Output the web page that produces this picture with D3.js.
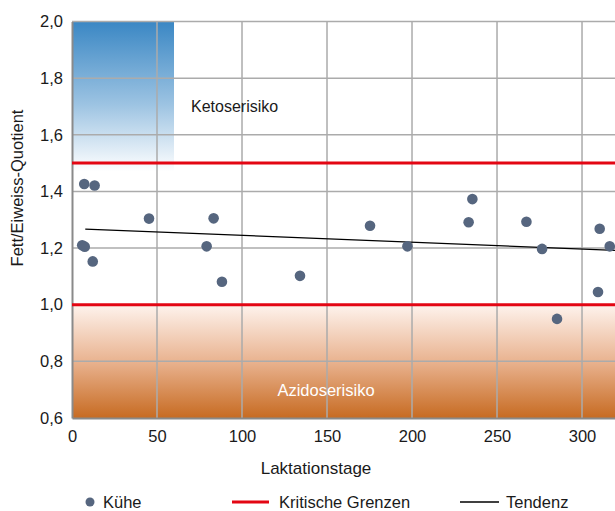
<!DOCTYPE html>
<html>
<head>
<meta charset="utf-8">
<script src="https://cdn.jsdelivr.net/npm/d3@7"></script>
<style>
  body { margin: 0; background: #fff; }
  text { font-family: "Liberation Sans", Arial, sans-serif; fill: #1a1a1a; }
</style>
</head>
<body>
<div id="chart"></div>
<script>
// Laktationstage vs. Fett/Eiweiss-Quotient
var days  = [6, 7.5, 7.2, 13.3, 12.2, 45.3, 79.2, 83.3, 88.2, 134.1, 175.3, 197.3, 233.3, 235.5, 267.3, 276.5, 285.3, 309.4, 310.4, 316.3];
var ratio = [1.21, 1.205, 1.426, 1.421, 1.153, 1.304, 1.206, 1.305, 1.081, 1.102, 1.279, 1.206, 1.291, 1.373, 1.293, 1.197, 0.95, 1.045, 1.268, 1.206];

var limits = [1.0, 1.5];               // Kritische Grenzen
var trendDays = [7.8, 319.4];          // Tendenz
var trendVals = [1.267, 1.192];

var xTicks = [0, 50, 100, 150, 200, 250, 300];
var yTicks = [0.6, 0.8, 1.0, 1.2, 1.4, 1.6, 1.8, 2.0];

var legendLabels = ['Kühe', 'Kritische Grenzen', 'Tendenz'];

var width = 615, height = 511;
var margin = { top: 21.5, right: 0, bottom: 93, left: 72 };

var svg = d3.select('#chart').append('svg')
    .attr('width', width)
    .attr('height', height);

var x = d3.scaleLinear().domain([0, 319.4]).range([margin.left, width - margin.right]);
var y = d3.scaleLinear().domain([0.6, 2.0]).range([height - margin.bottom, margin.top]);

var defs = svg.append('defs');
var blue = defs.append('linearGradient').attr('id', 'blueGrad')
    .attr('x1', 0).attr('y1', 0).attr('x2', 0).attr('y2', 1);
blue.append('stop').attr('offset', '0%').attr('stop-color', '#3a87c4');
blue.append('stop').attr('offset', '55%').attr('stop-color', '#9cc3e2');
blue.append('stop').attr('offset', '100%').attr('stop-color', '#ffffff');

var orange = defs.append('linearGradient').attr('id', 'orangeGrad')
    .attr('x1', 0).attr('y1', 0).attr('x2', 0).attr('y2', 1);
orange.append('stop').attr('offset', '0%').attr('stop-color', '#fef3ed');
orange.append('stop').attr('offset', '50%').attr('stop-color', '#e9b390');
orange.append('stop').attr('offset', '100%').attr('stop-color', '#c76b22');

// risk zones
svg.append('rect')
    .attr('x', x(0)).attr('y', y(2.0))
    .attr('width', x(60) - x(0))
    .attr('height', y(1.47) - y(2.0))
    .style('fill', 'url(#blueGrad)');

svg.append('rect')
    .attr('x', x(0)).attr('y', y(1.0))
    .attr('width', x.range()[1] - x(0))
    .attr('height', y(0.6) - y(1.0))
    .style('fill', 'url(#orangeGrad)');

// grid
svg.selectAll('.vgrid')
    .data(xTicks.filter(function(d) { return d > 0; }))
    .enter().append('line')
    .attr('x1', function(d) { return x(d); })
    .attr('x2', function(d) { return x(d); })
    .attr('y1', y(2.0)).attr('y2', y(0.6))
    .style('stroke', '#ababab').style('stroke-width', 1.5);

svg.selectAll('.hgrid')
    .data(yTicks.filter(function(d) { return d > 0.6; }))
    .enter().append('line')
    .attr('x1', x(0)).attr('x2', width)
    .attr('y1', function(d) { return y(d); })
    .attr('y2', function(d) { return y(d); })
    .style('stroke', '#ababab').style('stroke-width', 1.5);

// axes
var fmt = function(d) { return d3.format('.1f')(d).replace('.', ','); };

var yAxis = svg.append('g')
    .attr('transform', 'translate(' + x(0) + ',0)')
    .call(d3.axisLeft(y).tickValues(yTicks).tickFormat(fmt).tickSize(0).tickPadding(9));
var xAxis = svg.append('g')
    .attr('transform', 'translate(0,' + y(0.6) + ')')
    .call(d3.axisBottom(x).tickValues(xTicks).tickSize(0).tickPadding(12));

[xAxis, yAxis].forEach(function(a) {
    a.select('.domain').style('stroke', '#8a8a8a').style('stroke-width', 2);
    a.selectAll('text').style('font-size', '16.5px').style('fill', '#1a1a1a')
        .style('font-family', '"Liberation Sans", Arial, sans-serif');
});

// critical limits
svg.selectAll('.limit')
    .data(limits)
    .enter().append('line')
    .attr('x1', x(0)).attr('x2', width)
    .attr('y1', function(d) { return y(d); })
    .attr('y2', function(d) { return y(d); })
    .style('stroke', '#e30613').style('stroke-width', 3);

// trend
svg.append('line')
    .attr('x1', x(trendDays[0])).attr('y1', y(trendVals[0]))
    .attr('x2', x(trendDays[1])).attr('y2', y(trendVals[1]))
    .style('stroke', '#000').style('stroke-width', 1.2);

// cows
svg.selectAll('.dot')
    .data(days)
    .enter().append('circle')
    .attr('cx', function(d) { return x(d); })
    .attr('cy', function(d, i) { return y(ratio[i]); })
    .attr('r', 5.3)
    .style('fill', '#56667f');

// zone labels
svg.append('text')
    .attr('x', 191).attr('y', y(1.7) + 6)
    .style('font-size', '16px')
    .text('Ketoserisiko');

svg.append('text')
    .attr('x', 326).attr('y', y(0.7) + 6)
    .attr('text-anchor', 'middle')
    .style('font-size', '16.5px')
    .style('fill', '#ffffff')
    .text('Azidoserisiko');

// axis titles
svg.append('text')
    .attr('x', 316).attr('y', 474)
    .attr('text-anchor', 'middle')
    .style('font-size', '17px')
    .text('Laktationstage');

svg.append('text')
    .attr('transform', 'translate(23,188)rotate(-90)')
    .attr('text-anchor', 'middle')
    .style('font-size', '16.5px')
    .text('Fett/Eiweiss-Quotient');

// legend
var ly = 502;
svg.append('circle').attr('cx', 90).attr('cy', ly).attr('r', 4.5).style('fill', '#56667f');
svg.append('line').attr('x1', 232).attr('x2', 269).attr('y1', ly).attr('y2', ly)
    .style('stroke', '#e30613').style('stroke-width', 3);
svg.append('line').attr('x1', 460).attr('x2', 499).attr('y1', ly).attr('y2', ly)
    .style('stroke', '#000').style('stroke-width', 1.4);

svg.selectAll('.legendText')
    .data(legendLabels)
    .enter().append('text')
    .attr('x', function(d, i) { return [103, 279, 506][i]; })
    .attr('y', ly + 6)
    .style('font-size', '16.5px')
    .text(function(d) { return d; });
</script>
</body>
</html>
